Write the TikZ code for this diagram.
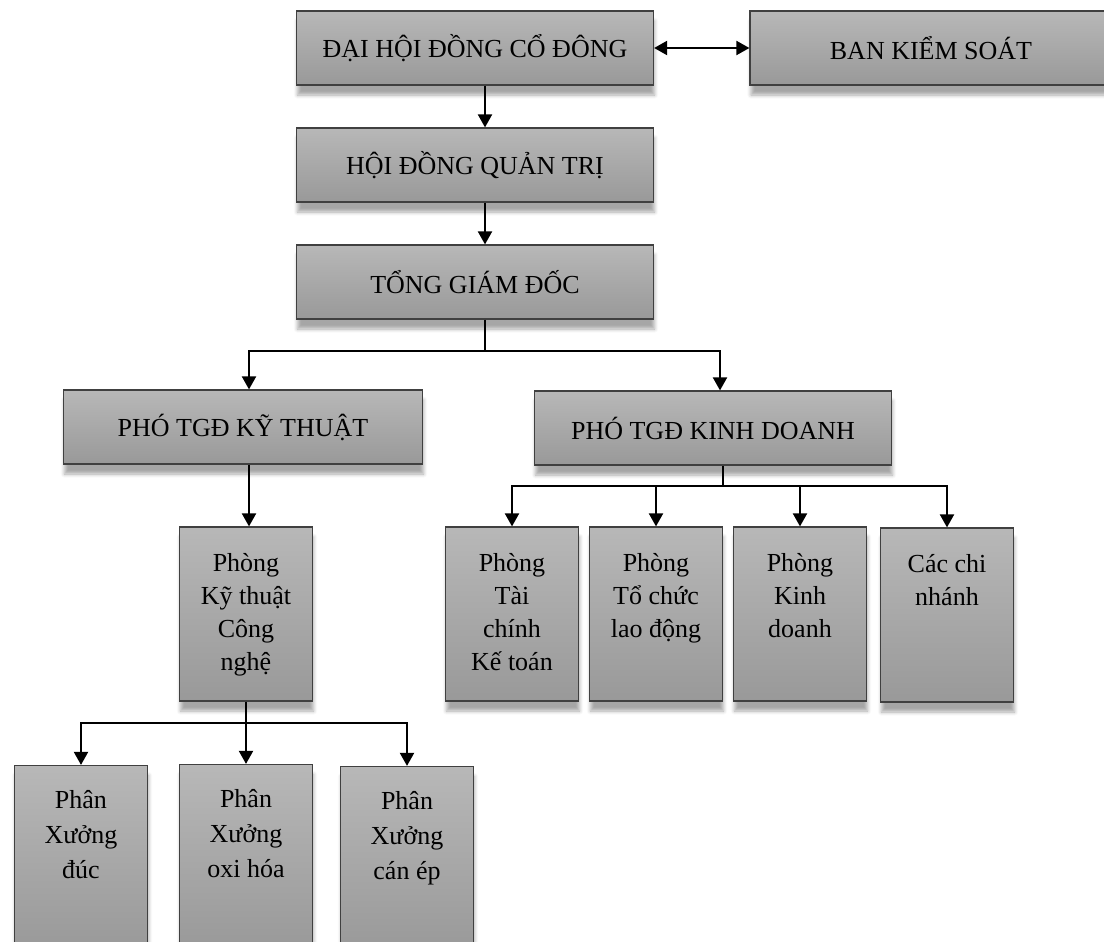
\documentclass[tikz,border=0pt]{standalone}
\usepackage{fontspec}
\setmainfont{Liberation Serif}
\usetikzlibrary{arrows.meta,shadows.blur}

\begin{document}
\begin{tikzpicture}[
  x=0.5pt,y=-0.5pt,
  box/.style={draw=black!75,line width=0.6pt,top color=black!28,bottom color=black!40,
    blur shadow={shadow xshift=0.5pt,shadow yshift=-5pt,shadow opacity=35},
    font=\fontsize{13}{16}\selectfont,inner sep=0pt},
  wide/.style={box,minimum width=178.5pt,minimum height=37pt},
  tall/.style={box,minimum width=66.5pt,minimum height=87pt},
  txt/.style={anchor=north,align=center,inner sep=0pt,font=\fontsize{13}{16.5}\selectfont},
  link/.style={draw=black,line width=1pt},
  arr/.style={link,-{Triangle[width=7pt,length=6.5pt]}},
  both/.style={link,{Triangle[width=7pt,length=6.5pt]}-{Triangle[width=7pt,length=6.5pt]}}
]
  \useasboundingbox (0,0) rectangle (1104,942);

  % Top levels
  \node[wide] (dh) at (475,48) {ĐẠI HỘI ĐỒNG CỔ ĐÔNG};
  \node[wide,minimum width=181pt] (bks) at (931,48) {BAN KIỂM SOÁT};
  \node[wide] (hd) at (475,165) {HỘI ĐỒNG QUẢN TRỊ};
  \node[wide] (tgd) at (475,282) {TỔNG GIÁM ĐỐC};
  \node[wide,minimum width=179.5pt] (ptkt) at (243,427) {PHÓ TGĐ KỸ THUẬT};
  \node[wide] (ptkd) at (713,428) {PHÓ TGĐ KINH DOANH};

  % Departments
  \node[tall] (pkt) at (246,614) {};
  \node[tall] (ptc) at (512,614) {};
  \node[tall] (ptcld) at (656,614) {};
  \node[tall] (pkd) at (800,614) {};
  \node[tall] (ccn) at (947,615) {};
  \node[txt] (pktT) at ([yshift=-13.5pt]pkt.north) {Phòng\\Kỹ thuật\\Công\\nghệ};
  \node[txt] (ptcT) at ([yshift=-13.5pt]ptc.north) {Phòng\\Tài\\chính\\Kế toán};
  \node[txt] (ptcldT) at ([yshift=-13.5pt]ptcld.north) {Phòng\\Tổ chức\\lao động};
  \node[txt] (pkdT) at ([yshift=-13.5pt]pkd.north) {Phòng\\Kinh\\doanh};
  \node[txt] (ccnT) at ([yshift=-13.5pt]ccn.north) {Các chi\\nhánh};

  % Workshops
  \node[tall,minimum height=92.5pt] (pxd) at (81,858) {};
  \node[tall,minimum height=92.5pt] (pxo) at (246,857) {};
  \node[tall,minimum height=92.5pt] (pxc) at (407,859) {};
  \node[txt,font=\fontsize{13}{17.5}\selectfont] (pxdT) at ([yshift=-12.5pt]pxd.north) {Phân\\Xưởng\\đúc};
  \node[txt,font=\fontsize{13}{17.5}\selectfont] (pxoT) at ([yshift=-12.5pt]pxo.north) {Phân\\Xưởng\\oxi hóa};
  \node[txt,font=\fontsize{13}{17.5}\selectfont] (pxcT) at ([yshift=-12.5pt]pxc.north) {Phân\\Xưởng\\cán ép};

  % Connectors
  \draw[both] (dh.east) -- (bks.west);
  \draw[arr] ([xshift=5pt]dh.south) -- ([xshift=5pt]hd.north);
  \draw[arr] ([xshift=5pt]hd.south) -- ([xshift=5pt]tgd.north);
  \draw[link] ([xshift=5pt]tgd.south) -- ++(0,31) coordinate (j1);
  \draw[arr] (j1) -| ([xshift=3pt]ptkt.north);
  \draw[arr] (j1) -| ([xshift=3.5pt]ptkd.north);

  \draw[arr] ([xshift=3pt]ptkt.south) -- ([xshift=3pt]ptkt.south |- pkt.north);
  \draw[link] (pkt.south) -- ++(0,21) coordinate (j3);
  \draw[arr] (j3) -| (pxd.north);
  \draw[arr] (j3) -- (pxo.north);
  \draw[arr] (j3) -| (pxc.north);

  \draw[link] ([xshift=5pt]ptkd.south) -- ++(0,20) coordinate (j2);
  \draw[arr] (j2) -| (ptc.north);
  \draw[arr] (j2) -| (ptcld.north);
  \draw[arr] (j2) -| (pkd.north);
  \draw[arr] (j2) -| (ccn.north);
\end{tikzpicture}
\end{document}
